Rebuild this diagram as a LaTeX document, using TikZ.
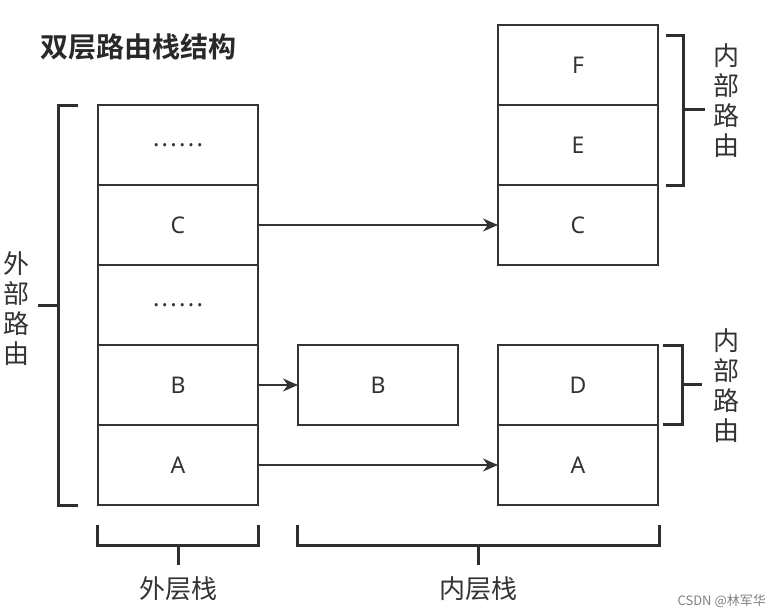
\documentclass[tikz,border=0pt]{standalone}
\usepackage{fontspec}
\setmainfont{Noto Sans}
\newfontfamily\cjk{Noto Sans CJK SC}
\newfontfamily\cjkbold{Noto Sans CJK SC Bold}
\usetikzlibrary{arrows.meta}
\definecolor{ink}{HTML}{333333}
\newcommand{\mydots}{\fontsize{24}{26}\selectfont\raisebox{-4pt}{\hbox to 50pt{.\hfil.\hfil.\hfil.\hfil.\hfil.}}}
\begin{document}
\begin{tikzpicture}[x=1pt,y=-1pt,
  cell/.style={draw=ink,line width=1.6pt,minimum width=160pt,minimum height=80pt,inner sep=0pt,outer sep=0pt,text=ink,font=\fontsize{23}{26}\selectfont},
  conn/.style={draw=ink,line width=1.6pt,-{Stealth[length=15pt,width=13pt]}},
  brk/.style={draw=ink!90!black,line width=3pt},
  vlab/.style={text=ink,align=center,inner sep=0pt,font=\cjk\fontsize{26}{30}\selectfont},
  hlab/.style={text=ink,inner sep=0pt,font=\cjk\fontsize{26}{30}\selectfont}]
\useasboundingbox (0,0) rectangle (772,616);
% left stack
\node[cell] (l5) at (178,145) {\mydots};
\node[cell] (l4) at (178,225) {C};
\node[cell] (l3) at (178,305) {\mydots};
\node[cell] (l2) at (178,385) {B};
\node[cell] (l1) at (178,465) {A};
% middle
\node[cell] (mb) at (378,385) {B};
% right top stack
\node[cell] (rf) at (578,65) {F};
\node[cell] (re) at (578,145) {E};
\node[cell] (rc) at (578,225) {C};
% right bottom stack
\node[cell] (rd) at (578,385) {D};
\node[cell] (ra) at (578,465) {A};
% connectors
\draw[conn] (l4.east) -- (rc.west);
\draw[conn] (l2.east) -- (mb.west);
\draw[conn] (l1.east) -- (ra.west);
% title
\node[text=ink!80!black,inner sep=0pt,anchor=west,font=\cjkbold\fontsize{28}{30}\selectfont] (title) at (40,47) {双层路由栈结构};
% left bracket
\draw[brk] (78,105) -- (58,105) -- (58,505) -- (78,505);
\draw[brk] (38,305) -- (58,305);
\node[vlab] (outer) at (17,309) {外\\部\\路\\由};
% top right bracket
\draw[brk] (666,35) -- (683,35) -- (683,185) -- (666,185);
\draw[brk] (683,109) -- (705,109);
\node[vlab] (inner1) at (726,101) {内\\部\\路\\由};
% bottom right bracket
\draw[brk] (663,345) -- (682,345) -- (682,424) -- (663,424);
\draw[brk] (682,384) -- (702,384);
\node[vlab] (inner2) at (726,386) {内\\部\\路\\由};
% bottom brackets
\draw[brk] (97,525) -- (97,545) -- (258,545) -- (258,525);
\draw[brk] (178,545) -- (178,565);
\node[hlab] (outs) at (178,589) {外层栈};
\draw[brk] (297,525) -- (297,545) -- (659,545) -- (659,525);
\draw[brk] (478,545) -- (478,565);
\node[hlab] (ins) at (478,589) {内层栈};
% watermark
\node[text=gray,inner sep=0pt,anchor=east,font=\cjk\fontsize{13}{15}\selectfont] (wm) at (766,601) {CSDN @林军华};
\end{tikzpicture}
\end{document}
